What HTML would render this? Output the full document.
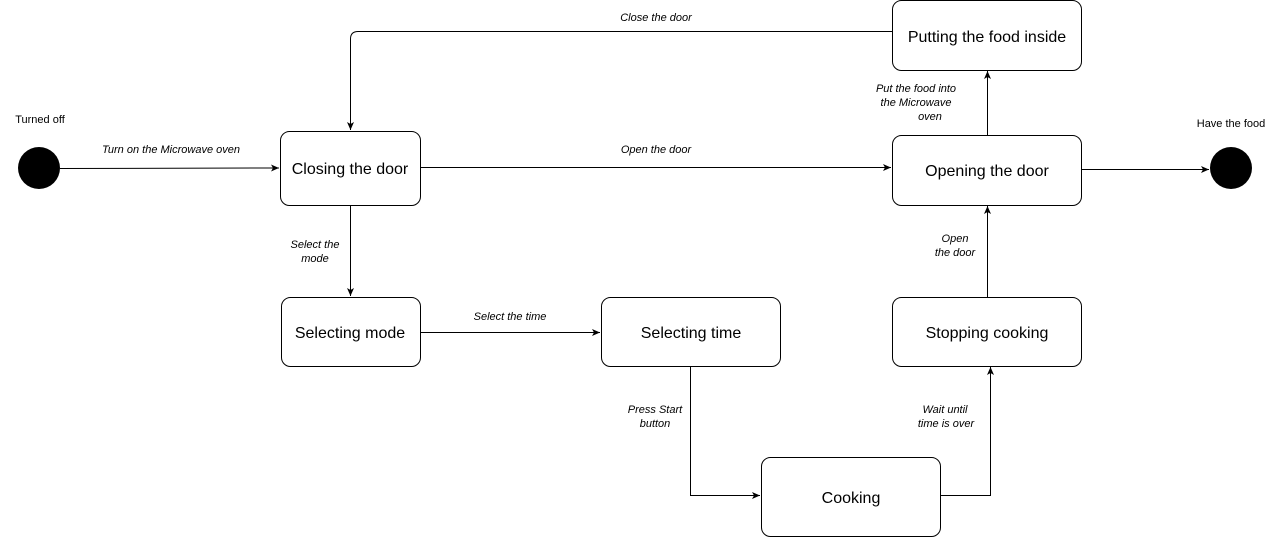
<!DOCTYPE html>
<html><head><meta charset="utf-8"><style>
html,body{margin:0;padding:0;background:#fff;}
svg{display:block;font-family:"Liberation Sans",Arial,sans-serif;}
.b{fill:#fff;stroke:#000;stroke-width:1}
.t{font-size:16px;text-anchor:middle;fill:#000}
.l{font-size:11px;font-style:italic;text-anchor:middle;fill:#000}
.c{fill:none;stroke:#000;stroke-width:1}
</style></head><body>
<svg width="1271" height="538" viewBox="0 0 1271 538">
<defs><marker id="a" markerWidth="10" markerHeight="10" refX="9" refY="5" orient="auto" markerUnits="userSpaceOnUse"><path d="M1,1.5 L9,5 L1,8.5 L3,5 Z" fill="#000"/></marker></defs>

<circle cx="39" cy="168" r="21" fill="#000"/>
<text x="40" y="123" font-size="11" text-anchor="middle">Turned off</text>
<circle cx="1231" cy="168" r="21" fill="#000"/>
<text x="1231" y="127" font-size="11" text-anchor="middle">Have the food</text>

<rect class="b" x="280.5" y="131.5" width="140" height="74" rx="9"/>
<text class="t" x="350" y="174">Closing the door</text>
<rect class="b" x="892.5" y="135.5" width="189" height="70" rx="9"/>
<text class="t" x="987" y="176">Opening the door</text>
<rect class="b" x="892.5" y="0.5" width="189" height="70" rx="9"/>
<text class="t" x="987" y="42">Putting the food inside</text>
<rect class="b" x="281.5" y="297.5" width="139" height="69" rx="9"/>
<text class="t" x="350" y="338">Selecting mode</text>
<rect class="b" x="601.5" y="297.5" width="179" height="69" rx="9"/>
<text class="t" x="691" y="338">Selecting time</text>
<rect class="b" x="892.5" y="297.5" width="189" height="69" rx="9"/>
<text class="t" x="987" y="338">Stopping cooking</text>
<rect class="b" x="761.5" y="457.5" width="179" height="79" rx="9"/>
<text class="t" x="851" y="503">Cooking</text>

<path class="c" d="M60,168.5 L279,168" marker-end="url(#a)"/>
<text class="l" x="171" y="153">Turn on the Microwave oven</text>
<path class="c" d="M420,167.5 L891,167.5" marker-end="url(#a)"/>
<text class="l" x="656" y="153">Open the door</text>
<path class="c" d="M1081,169.5 L1209,169.5" marker-end="url(#a)"/>
<path class="c" d="M892,31.5 L358,31.5 Q350.5,31.5 350.5,39 L350.5,130" marker-end="url(#a)"/>
<text class="l" x="656" y="21">Close the door</text>
<path class="c" d="M350.5,205 L350.5,296" marker-end="url(#a)"/>
<text class="l" x="315" y="248">Select the</text>
<text class="l" x="315" y="262">mode</text>
<path class="c" d="M420,332.5 L600,332.5" marker-end="url(#a)"/>
<text class="l" x="510" y="320">Select the time</text>
<path class="c" d="M690.5,366 L690.5,495.5 L760,495.5" marker-end="url(#a)"/>
<text class="l" x="655" y="413">Press Start</text>
<text class="l" x="655" y="427">button</text>
<path class="c" d="M940,495.5 L990.5,495.5 L990.5,367" marker-end="url(#a)"/>
<text class="l" x="945" y="413">Wait until</text>
<text class="l" x="946" y="427">time is over</text>
<path class="c" d="M987.5,297 L987.5,206" marker-end="url(#a)"/>
<text class="l" x="955" y="242">Open</text>
<text class="l" x="955" y="256">the door</text>
<path class="c" d="M987.5,135 L987.5,71" marker-end="url(#a)"/>
<text class="l" x="916" y="92">Put the food into</text>
<text class="l" x="916" y="106">the Microwave</text>
<text class="l" x="930" y="120">oven</text>
</svg>
</body></html>
